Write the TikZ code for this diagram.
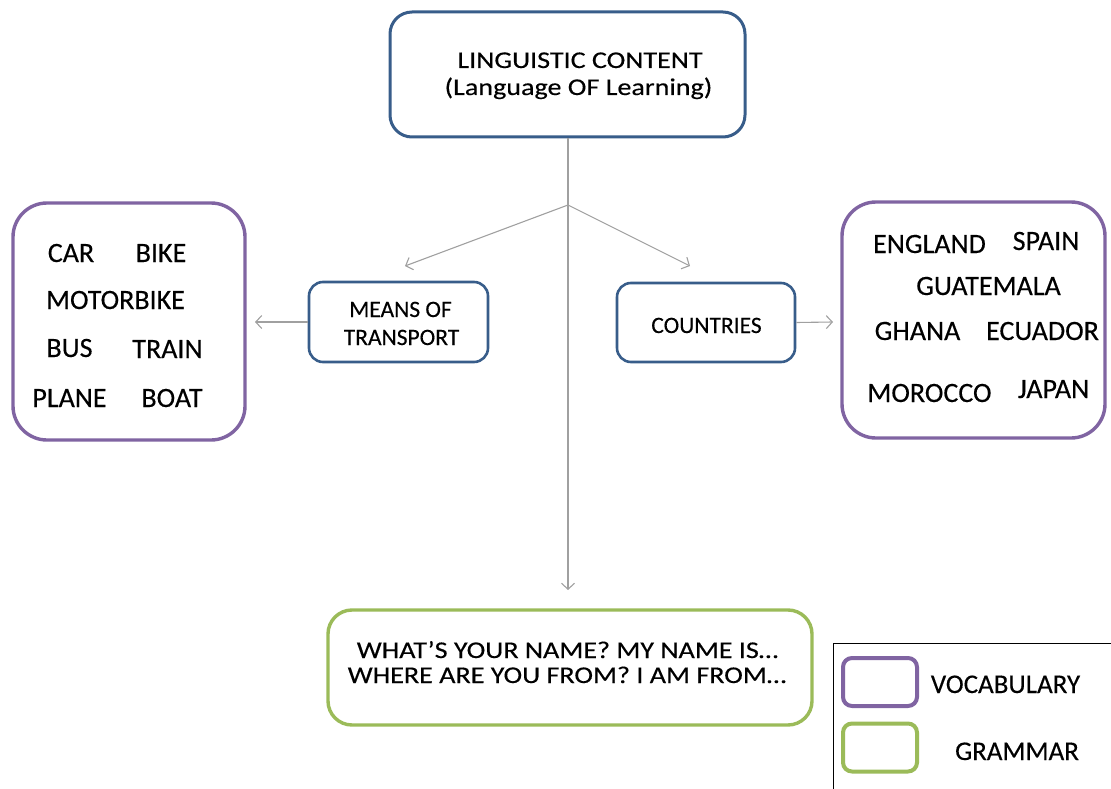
\documentclass[tikz,border=0pt]{standalone}
\usepackage{fontspec}
\setmainfont{Carlito}[FakeBold=0.3]
\newfontfamily\widefont{Carlito}[FakeStretch=1.17,FakeBold=0.3]
\usetikzlibrary{arrows.meta}

\definecolor{boxblue}{RGB}{56,93,138}
\definecolor{vocabpurple}{RGB}{128,100,162}
\definecolor{grammargreen}{RGB}{155,187,89}
\definecolor{linkgray}{RGB}{160,160,160}

\tikzset{
  boxbase/.style={draw, fill=white, inner sep=0pt},
  topicbox/.style={boxbase, draw=boxblue, line width=2.6pt, rounded corners=14pt},
  headbox/.style={boxbase, draw=boxblue, line width=3pt, rounded corners=22pt},
  vocabbox/.style={boxbase, draw=vocabpurple, line width=3.4pt, rounded corners=34pt},
  grammarbox/.style={boxbase, draw=grammargreen, line width=3.4pt, rounded corners=24pt},
  keybox/.style={boxbase, line width=4pt, rounded corners=9pt,
    minimum width=74pt, minimum height=48pt},
  conn/.style={draw=linkgray, line width=1.1pt},
  connarrow/.style={conn, -{Straight Barb[length=6pt,width=13pt]}},
  word/.style={anchor=base, inner sep=0pt, font=\fontsize{28}{34}\selectfont},
  topic/.style={anchor=base, inner sep=0pt, font=\fontsize{23.5}{28}\selectfont},
  wide/.style={anchor=base, inner sep=0pt, font=\widefont\fontsize{24}{28}\selectfont},
  keytext/.style={anchor=base, inner sep=0pt, font=\fontsize{27}{32}\selectfont}
}

\begin{document}
\begin{tikzpicture}[x=1pt, y=-1pt]
\useasboundingbox (0,0) rectangle (1111,789);

% --- boxes ---
\node[headbox, minimum width=355pt, minimum height=125pt] (head) at (567.5,74.5) {};
\node[topicbox, minimum width=179pt, minimum height=80pt] (means) at (398.5,322) {};
\node[topicbox, minimum width=178pt, minimum height=79pt] (countries) at (706,322.5) {};
\node[vocabbox, minimum width=232pt, minimum height=237pt] (transportlist) at (129,321.5) {};
\node[vocabbox, minimum width=263pt, minimum height=236pt] (countrylist) at (973.5,320) {};
\node[grammarbox, minimum width=484pt, minimum height=115pt] (phrases) at (570,667.5) {};

% --- box texts ---
\node[wide] (head1) at (580,68) {LINGUISTIC CONTENT};
\node[wide] (head2) at (578.5,95) {(Language OF Learning)};

\node[topic] (means1) at (400.5,317) {MEANS OF};
\node[topic] (means2) at (401.5,345) {TRANSPORT};
\node[topic] (countries1) at (706.5,333) {COUNTRIES};

\node[word] (car) at (71,262) {CAR};
\node[word] (bike) at (161,262) {BIKE};
\node[word] (motorbike) at (115.5,309) {MOTORBIKE};
\node[word] (bus) at (69.5,357) {BUS};
\node[word] (train) at (167.5,358) {TRAIN};
\node[word] (plane) at (69.5,407) {PLANE};
\node[word] (boat) at (172,407) {BOAT};

\node[word] (england) at (929.5,253) {ENGLAND};
\node[word] (spain) at (1046,250) {SPAIN};
\node[word] (guatemala) at (988.5,295) {GUATEMALA};
\node[word] (ghana) at (917.5,340) {GHANA};
\node[word] (ecuador) at (1042.5,340) {ECUADOR};
\node[word] (morocco) at (929.5,402) {MOROCCO};
\node[word] (japan) at (1053.5,398) {JAPAN};

\node[wide] (phrase1) at (567.5,658) {WHAT’S YOUR NAME? MY NAME IS…};
\node[wide] (phrase2) at (567,683) {WHERE ARE YOU FROM? I AM FROM…};

% --- connectors ---
\coordinate (fork) at (568,205);
\coordinate (meansend) at (405,266);
\coordinate (countriesend) at (690,266);
\coordinate (phrasesend) at (568,590);
\coordinate (listleft) at (255,322);
\coordinate (listright) at (833,322);

\draw[conn] (head.south -| fork) -- (fork);
\draw[connarrow] (fork) -- (phrasesend);
\draw[connarrow] (fork) -- (meansend);
\draw[connarrow] (fork) -- (countriesend);
\draw[connarrow] (means.west) -- (listleft);
\draw[connarrow] (countries.east) -- (listright);

% --- key ---
\coordinate (keybottom) at (833,789);
\coordinate (keycorner) at (833,643);
\coordinate (keyright) at (1111,643);
\draw[line width=1pt, black] (keybottom) -- (keycorner) -- (keyright);
\node[keybox, draw=vocabpurple] (keyvocab) at (880,682) {};
\node[keybox, draw=grammargreen] (keygrammar) at (880,747.5) {};
\node[keytext] (keyvocabtext) at (1005.5,693) {VOCABULARY};
\node[keytext] (keygrammartext) at (1017,760) {GRAMMAR};
\end{tikzpicture}
\end{document}
